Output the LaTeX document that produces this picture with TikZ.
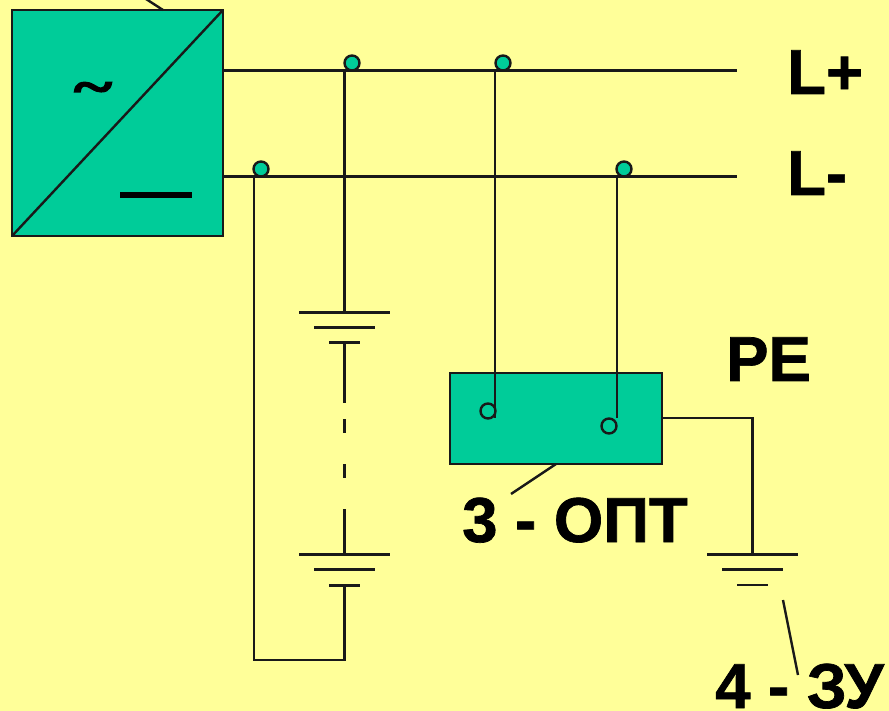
\documentclass[tikz,border=0pt]{standalone}
\usepackage{fontspec}
\setmainfont[BoldFeatures={FakeBold=1.1}]{Liberation Sans}
\newfontfamily\tildefont[BoldFeatures={FakeBold=3}]{Liberation Serif}
\usepackage{xcolor}
\usetikzlibrary{positioning,calc}
\definecolor{panelyellow}{HTML}{FFFF99}
\definecolor{boxgreen}{HTML}{00CC99}
\tikzset{
  wire/.style={line width=2.4pt, black!90},
  unit/.style={draw=black!90, line width=2.7pt, fill=boxgreen, inner sep=0pt, outer sep=0pt, anchor=north west},
  tapdot/.style={circle, draw=black!90, line width=2.4pt, fill=boxgreen, inner sep=0pt, minimum size=15pt},
  pindot/.style={circle, draw=black!90, line width=2.4pt, inner sep=0pt, minimum size=15pt},
  tag/.style={font=\bfseries\fontsize{63.5}{63.5}\selectfont, anchor=base west, inner sep=0pt, text depth=0pt},
}
\begin{document}
\begin{tikzpicture}[x=1pt, y=-1pt]
\useasboundingbox[fill=panelyellow] (0,0) rectangle (889,711);

% Converter
\node[unit, minimum width=211pt, minimum height=226pt] (conv) at (12,10) {};
\draw[wire] (conv.south west) -- (conv.north east);
\node[font=\tildefont\bfseries\fontsize{72}{72}\selectfont, inner sep=0pt, yscale=0.7, transform shape] (acsign) at (93,93) {\char`~};
\node[fill=black, inner sep=0pt, minimum width=72pt, minimum height=6pt] (dcsign) at (156,195) {};
\coordinate (convtag) at (146,-1);
\coordinate (convfoot) at (163,10);
\draw[wire] (convtag) -- (convfoot);

% Buses
\coordinate (plusend) at (737,70.5);
\coordinate (minusend) at (737,176.5);
\draw[wire] (conv.east |- plusend) -- (plusend);
\draw[wire] (conv.east |- minusend) -- (minusend);
\node[tag] (lplus) at (787,94) {L+};
\node[tag] (lminus) at (787,195) {L-};

% Battery
\coordinate (batA) at (344.5,312.5);
\coordinate (batB) at (344.5,327.5);
\coordinate (batC) at (344.5,343);
\coordinate (batD) at (344.5,554.5);
\coordinate (batE) at (344.5,569.5);
\coordinate (batF) at (344.5,585);
\coordinate (batlow) at (344.5,660);
\coordinate (retlow) at (254,660);
\draw[wire] ($(batA)+(-45.5,0)$) -- ($(batA)+(45.5,0)$);
\draw[wire] ($(batB)+(-30.5,0)$) -- ($(batB)+(30.5,0)$);
\draw[wire, line width=3pt] ($(batC)+(-15.5,0)$) -- ($(batC)+(15.5,0)$);
\draw[wire] ($(batD)+(-45.5,0)$) -- ($(batD)+(45.5,0)$);
\draw[wire] ($(batE)+(-30.5,0)$) -- ($(batE)+(30.5,0)$);
\draw[wire, line width=3pt] ($(batF)+(-15.5,0)$) -- ($(batF)+(15.5,0)$);
\draw[wire] (batA) -- (batA |- plusend);
\draw[wire] (batC) -- ($(batC)+(0,60)$);
\draw[wire] ($(batC)+(0,76)$) -- ($(batC)+(0,90)$);
\draw[wire] ($(batC)+(0,121)$) -- ($(batC)+(0,135)$);
\draw[wire] ($(batC)+(0,166)$) -- (batD);
\draw[wire] (batF) -- (batlow) -- (retlow) -- (retlow |- minusend);

% Tap points
\node[tapdot] (tapa) at (352,63) {};
\node[tapdot] (tapb) at (503,63) {};
\node[tapdot] (tapc) at (261,169) {};
\node[tapdot] (tapd) at (624,169) {};

% Monitor unit
\node[unit, minimum width=212pt, minimum height=91pt] (opt) at (450,373) {};
\coordinate (optin) at (495,418);
\coordinate (optout) at (617,418);
\draw[wire] (optin |- plusend) -- (optin);
\draw[wire] (optout |- minusend) -- (optout);
\node[pindot] (pina) at (488,411) {};
\node[pindot] (pinb) at (609,426) {};
\coordinate (opttag) at (511,494);
\coordinate (optfoot) at (556,464);
\draw[wire] (optfoot) -- (opttag);
\node[tag] (optlabel) at (462,542) {3 - ОПТ};
\node[tag] (pelabel) at (726,381) {PE};

% Earth
\coordinate (earthA) at (752.5,554.5);
\coordinate (earthB) at (752.5,569.5);
\coordinate (earthC) at (752.5,585);
\draw[wire] (opt.east |- optout) -- (optout -| earthA) -- (earthA);
\draw[wire] ($(earthA)+(-45.5,0)$) -- ($(earthA)+(45.5,0)$);
\draw[wire] ($(earthB)+(-30.5,0)$) -- ($(earthB)+(30.5,0)$);
\draw[wire] ($(earthC)+(-15.5,0)$) -- ($(earthC)+(15.5,0)$);
\coordinate (earthtop) at (783,600);
\coordinate (earthtag) at (798,675);
\draw[wire] (earthtop) -- (earthtag);
\node[tag] (zulabel) at (715,708) {4 - ЗУ};
\end{tikzpicture}
\end{document}
